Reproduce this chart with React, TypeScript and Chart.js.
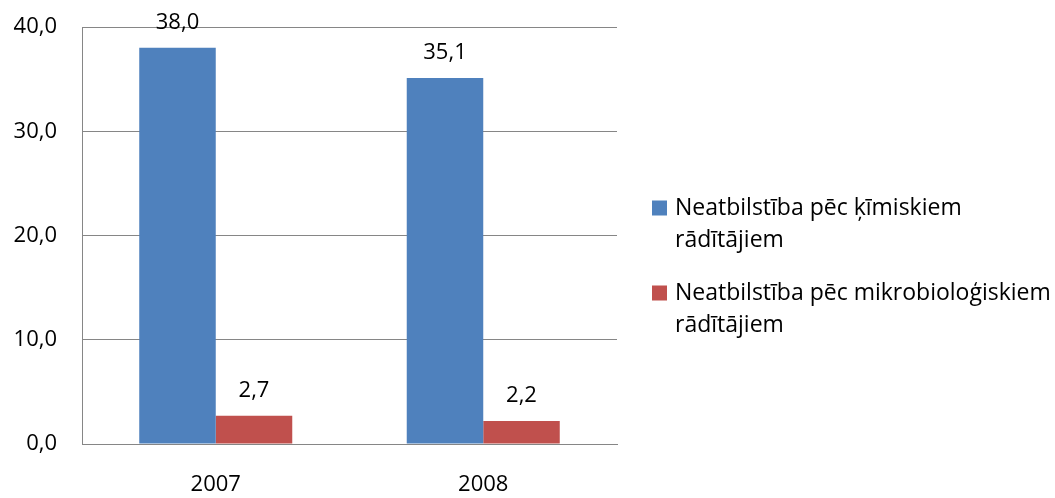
import React, { useEffect, useRef } from "react";
import { Chart, registerables } from "chart.js";

Chart.register(...registerables);

const categories = ["2007", "2008"];
const chemicalValues = [38.0, 35.1];
const microbioValues = [2.7, 2.2];
const seriesLabels = [
  ["Neatbilstība pēc ķīmiskiem", "rādītājiem"],
  ["Neatbilstība pēc mikrobioloģiskiem", "rādītājiem"],
];
const yTicks = [0, 10, 20, 30, 40];

const FONT = "'Open Sans', 'Noto Sans', sans-serif";
const fmt = (v: number) => v.toFixed(1).replace(".", ",");

const valueLabels = {
  id: "valueLabels",
  afterDatasetsDraw(chart: any) {
    const ctx = chart.ctx;
    chart.data.datasets.forEach((ds: any, i: number) => {
      const meta = chart.getDatasetMeta(i);
      meta.data.forEach((bar: any, j: number) => {
        ctx.save();
        ctx.font = `22px ${FONT}`;
        ctx.fillStyle = "#000";
        ctx.textAlign = "center";
        ctx.textBaseline = "middle";
        ctx.fillText(fmt(ds.data[j]), bar.x, bar.y - 25);
        ctx.restore();
      });
    });
  },
};

const sideLegend = {
  id: "sideLegend",
  afterDraw(chart: any) {
    const ctx = chart.ctx;
    const area = chart.chartArea;
    const boxX = area.right + 35;
    const textX = boxX + 23;
    let y = 208;
    const lineGap = 32;
    const itemGap = 21;
    ctx.save();
    ctx.font = `23px ${FONT}`;
    ctx.textAlign = "left";
    ctx.textBaseline = "middle";
    chart.data.datasets.forEach((ds: any, i: number) => {
      const lines = seriesLabels[i];
      ctx.fillStyle = ds.backgroundColor;
      ctx.fillRect(boxX, y - 7.5, 15, 15);
      ctx.fillStyle = "#000";
      lines.forEach((line, k) => {
        ctx.fillText(line, textX, y + k * lineGap);
      });
      y += lines.length * lineGap + itemGap;
    });
    ctx.restore();
  },
};

export default function App() {
  const ref = useRef<HTMLCanvasElement>(null);
  useEffect(() => {
    if (!ref.current) return;
    const colors = ["#4F81BD", "#C0504D"];
    const chart = new Chart(ref.current, {
      type: "bar",
      data: {
        labels: categories,
        datasets: [
          { label: seriesLabels[0].join(" "), data: chemicalValues, backgroundColor: colors[0] },
          { label: seriesLabels[1].join(" "), data: microbioValues, backgroundColor: colors[1] },
        ],
      },
      options: {
        responsive: false,
        animation: false,
        devicePixelRatio: 1,
        layout: { autoPadding: false, padding: { top: 27, right: 438, left: 0, bottom: 0 } },
        datasets: { bar: { barPercentage: 1, categoryPercentage: 0.572 } } as any,
        scales: {
          x: {
            grid: { display: false, drawTicks: false },
            border: { display: true, color: "#868686", width: 1 },
            ticks: { color: "#000", font: { family: FONT, size: 22 }, padding: 28 },
            afterFit: (s: any) => {
              s.height = 54;
              s.paddingLeft = 0;
              s.paddingRight = 0;
            },
          },
          y: {
            min: 0,
            max: 40,
            afterBuildTicks: (s: any) => { s.ticks = yTicks.map((v) => ({ value: v })); },
            grid: { color: "#868686", drawTicks: false },
            border: { display: true, color: "#868686" },
            ticks: {
              color: "#000",
              font: { family: FONT, size: 22 },
              padding: 25,
              callback: (v: any) => fmt(Number(v)),
            },
            afterFit: (s: any) => {
              s.width = 82;
              s.paddingTop = 0;
              s.paddingBottom = 0;
            },
          },
        },
        plugins: {
          tooltip: { enabled: false },
          legend: { display: false },
        },
      },
      plugins: [valueLabels, sideLegend],
    });
    return () => chart.destroy();
  }, []);
  return (
    <div style={{ position: "absolute", left: 0, top: 0, width: 1055, height: 498, background: "#fff" }}>
      <canvas ref={ref} width={1055} height={498} />
    </div>
  );
}
